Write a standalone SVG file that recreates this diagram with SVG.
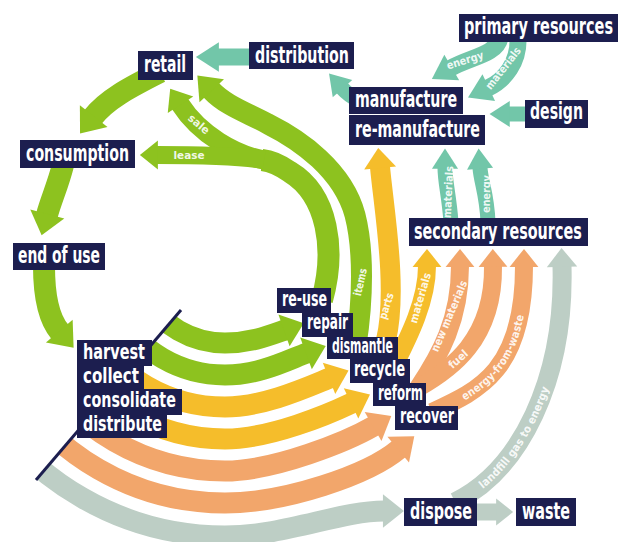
<svg xmlns="http://www.w3.org/2000/svg" width="620" height="542" viewBox="0 0 620 542">
<style>
.box{fill:#1c1e4f}
.t{font-family:"Liberation Sans Narrow","DejaVu Sans Condensed","Liberation Sans",sans-serif;font-weight:bold;fill:#fff;font-size:23px}
.ts{font-size:21px}
.s{font-family:"Liberation Sans Narrow","DejaVu Sans Condensed","Liberation Sans",sans-serif;font-weight:bold;fill:#fff;fill-opacity:.9;font-size:11px;text-anchor:middle}
.b{fill:none}
.g{stroke:#8dc21f}.y{stroke:#f5bd2b}.o{stroke:#f2a66b}.x{stroke:#bdcec5}.c{stroke:#72c6a9}
</style>
<defs>
<clipPath id="cut"><polygon points="531,-100 800,-100 800,700 -152,700"/></clipPath>
<marker id="mg" viewBox="-0.05 -0.8 1.05 1.6" markerWidth="1.05" markerHeight="1.6" refX="0" refY="0" orient="auto" markerUnits="strokeWidth" overflow="visible"><path d="M-0.05,-0.8 L0.95,0 L-0.05,0.8Z" fill="#8dc21f"/></marker>
<marker id="my" viewBox="-0.05 -0.8 1.05 1.6" markerWidth="1.05" markerHeight="1.6" refX="0" refY="0" orient="auto" markerUnits="strokeWidth" overflow="visible"><path d="M-0.05,-0.8 L0.95,0 L-0.05,0.8Z" fill="#f5bd2b"/></marker>
<marker id="mo" viewBox="-0.05 -0.8 1.05 1.6" markerWidth="1.05" markerHeight="1.6" refX="0" refY="0" orient="auto" markerUnits="strokeWidth" overflow="visible"><path d="M-0.05,-0.8 L0.95,0 L-0.05,0.8Z" fill="#f2a66b"/></marker>
<marker id="mx" viewBox="-0.05 -0.8 1.05 1.6" markerWidth="1.05" markerHeight="1.6" refX="0" refY="0" orient="auto" markerUnits="strokeWidth" overflow="visible"><path d="M-0.05,-0.8 L0.95,0 L-0.05,0.8Z" fill="#bdcec5"/></marker>
<marker id="mt" viewBox="-0.05 -0.87 1.35 1.74" markerWidth="1.35" markerHeight="1.74" refX="0" refY="0" orient="auto" markerUnits="strokeWidth" overflow="visible"><path d="M-0.05,-0.87 L1.3,0 L-0.05,0.87Z" fill="#72c6a9"/></marker>
</defs>

<g id="connectors">
  <g clip-path="url(#cut)">
    <path class="b x" stroke-width="21" marker-end="url(#mx)" d="M-22.7,393 A286,286 0 0 0 225,536 C285,536 340,511 384,511"/>
    <path class="b o" stroke-width="21" marker-end="url(#mo)" d="M5.9,376.5 A253,253 0 0 0 225,503 C285,503 368,475 399,449"/>
    <path class="b o" stroke-width="21" marker-end="url(#mo)" d="M33.6,360.5 A221,221 0 0 0 225,471 C275,471 348,441 374,426"/>
    <path class="b y" stroke-width="21" marker-end="url(#my)" d="M61.3,344.5 A189,189 0 0 0 225,439 C270,439 329,414 352,403"/>
    <path class="b y" stroke-width="21" marker-end="url(#my)" d="M89,328.5 A157,157 0 0 0 225,407 C265,407 310,386 330,378"/>
    <path class="b g" stroke-width="21" marker-end="url(#mg)" d="M116.75,312.5 A125,125 0 0 0 225,375 C260,375 288,360 307,353"/>
    <path class="b g" stroke-width="21" marker-end="url(#mg)" d="M144.5,296.5 A93,93 0 0 0 225,343 C250,343 268,336 285,330"/>
  </g>
  <path class="b g" stroke-width="22" marker-end="url(#mg)" d="M160,72 C133,86 108,98 93,117"/>
  <path class="b g" stroke-width="22" marker-end="url(#mg)" d="M63,165 C58,185 51,200 47,215"/>
  <path class="b g" stroke-width="22" marker-end="url(#mg)" d="M44,266 C44,295 48,318 60,332"/>
  <path class="b g" stroke-width="22" d="M322,300 C336,250 328,195 290,172 C280,165 272,161 262,160"/>
  <path class="b g" stroke-width="19" marker-end="url(#mg)" d="M264,160 C236,155 200,135 180,104"/>
  <path class="b g" stroke-width="18" marker-end="url(#mg)" d="M264,160 C240,156 200,155 157,155"/>
  <path class="b g" stroke-width="21" marker-end="url(#mg)" d="M356,345 C363,300 364,250 355,215 C343,170 300,140 268,124 C248,113 226,106 211,90"/>
  <path class="b y" stroke-width="20" marker-end="url(#my)" d="M386,340 C398,290 384,210 380,167"/>
  <path class="b y" stroke-width="18" marker-end="url(#my)" d="M393,368 C410,335 427,300 427,266"/>
  <path class="b o" stroke-width="18" marker-end="url(#mo)" d="M418,388 C440,355 460,320 460,266"/>
  <path class="b o" stroke-width="18" marker-end="url(#mo)" d="M418,388 C450,370 494,340 493,266"/>
  <path id="pEfw" class="b o" stroke-width="18" marker-end="url(#mo)" d="M432,412 C480,390 524,370 524,266"/>
  <path id="pLfg" class="b x" stroke-width="19" marker-end="url(#mx)" d="M455,502 C520,470 565,380 562,266"/>
  <path class="b x" stroke-width="17" marker-end="url(#mx)" d="M476,512 L497,512"/>
  <path class="b c" stroke-width="17" marker-end="url(#mt)" d="M251,57 L218,57"/>
  <path class="b c" stroke-width="15" marker-end="url(#mt)" d="M362,102 C356,99 350,97 342,88"/>
  <path class="b c" stroke-width="17" marker-end="url(#mt)" d="M500,38 C496,55 470,57 451,68"/>
  <path class="b c" stroke-width="17" marker-end="url(#mt)" d="M518,38 C519,62 505,80 488,88"/>
  <path class="b c" stroke-width="15" marker-end="url(#mt)" d="M526,114 L509,114"/>
  <path class="b c" stroke-width="15" marker-end="url(#mt)" d="M451,222 C449,195 445,182 445,168"/>
  <path class="b c" stroke-width="15" marker-end="url(#mt)" d="M488,222 C487,195 481,182 480,168"/>

  <text class="s" transform="translate(199,124) rotate(40)" dy="4" textLength="24" lengthAdjust="spacingAndGlyphs">sale</text>
  <text class="s" x="189" y="159" textLength="31" lengthAdjust="spacingAndGlyphs">lease</text>
  <text class="s" transform="translate(360,282) rotate(-77)" dy="4" textLength="28" lengthAdjust="spacingAndGlyphs">items</text>
  <text class="s" transform="translate(386,306) rotate(-73)" dy="4" textLength="27" lengthAdjust="spacingAndGlyphs">parts</text>
  <text class="s" transform="translate(420,298) rotate(-74)" dy="4" textLength="52" lengthAdjust="spacingAndGlyphs">materials</text>
  <text class="s" transform="translate(449,316) rotate(-67)" dy="4" textLength="76" lengthAdjust="spacingAndGlyphs">new materials</text>
  <text class="s" transform="translate(458,359) rotate(-42)" dy="4" textLength="22" lengthAdjust="spacingAndGlyphs">fuel</text>
  <text class="s" dy="4"><textPath href="#pEfw" startOffset="86" textLength="104" lengthAdjust="spacingAndGlyphs">energy-from-waste</textPath></text>
  <text class="s" dy="4"><textPath href="#pLfg" startOffset="90" textLength="120" lengthAdjust="spacingAndGlyphs">landfill gas to energy</textPath></text>
  <text class="s" transform="translate(448,192) rotate(-87)" dy="4" textLength="52" lengthAdjust="spacingAndGlyphs">materials</text>
  <text class="s" transform="translate(486,194) rotate(-89)" dy="4" textLength="38" lengthAdjust="spacingAndGlyphs">energy</text>
  <text class="s" transform="translate(465,60) rotate(-17)" dy="4" textLength="38" lengthAdjust="spacingAndGlyphs">energy</text>
  <text class="s" transform="translate(503,68) rotate(-52)" dy="4" textLength="50" lengthAdjust="spacingAndGlyphs">materials</text>
</g>

<g id="divider"><line x1="36" y1="480" x2="181" y2="310" stroke="#1c1e4f" stroke-width="3"/></g>

<g id="retail"><rect class="box" x="138" y="51" width="55" height="29"/><text class="t" x="144" y="72" textLength="42" lengthAdjust="spacingAndGlyphs">retail</text></g>
<g id="distribution"><rect class="box" x="249" y="42" width="105" height="27"/><text class="t" transform="translate(255,63) scale(0.72,1)" textLength="130.5" lengthAdjust="spacingAndGlyphs">distribution</text></g>
<g id="primary-resources"><rect class="box" x="459" y="14" width="159" height="28"/><text class="t" transform="translate(464,34) scale(0.72,1)" textLength="207" lengthAdjust="spacingAndGlyphs">primary resources</text></g>
<g id="manufacture"><rect class="box" x="349" y="87" width="114" height="27"/><rect class="box" x="349" y="115" width="136" height="30"/><text class="t" transform="translate(355,107) scale(0.72,1)" textLength="141.7" lengthAdjust="spacingAndGlyphs">manufacture</text><text class="t" transform="translate(355,137) scale(0.72,1)" textLength="173.6" lengthAdjust="spacingAndGlyphs">re-manufacture</text></g>
<g id="design"><rect class="box" x="525" y="100" width="63" height="28"/><text class="t" x="530" y="119" textLength="53" lengthAdjust="spacingAndGlyphs">design</text></g>
<g id="consumption"><rect class="box" x="20" y="140" width="115" height="28"/><text class="t" transform="translate(26,161) scale(0.72,1)" textLength="143" lengthAdjust="spacingAndGlyphs">consumption</text></g>
<g id="end-of-use"><rect class="box" x="13" y="243" width="92" height="27"/><text class="t" transform="translate(18,263) scale(0.72,1)" textLength="113.9" lengthAdjust="spacingAndGlyphs">end of use</text></g>
<g id="secondary-resources"><rect class="box" x="409" y="218" width="179" height="28"/><text class="t" transform="translate(414,239) scale(0.72,1)" textLength="233" lengthAdjust="spacingAndGlyphs">secondary resources</text></g>
<g id="harvest"><rect class="box" x="77" y="340" width="75" height="26"/><rect class="box" x="77" y="365" width="67" height="25"/><rect class="box" x="77" y="389" width="105" height="26"/><rect class="box" x="77" y="414" width="90" height="24"/>
<text class="t ts" x="83" y="359" textLength="62" lengthAdjust="spacingAndGlyphs">harvest</text><text class="t ts" x="83" y="383" textLength="56" lengthAdjust="spacingAndGlyphs">collect</text><text class="t ts" transform="translate(83,407) scale(0.72,1)" textLength="129" lengthAdjust="spacingAndGlyphs">consolidate</text><text class="t ts" transform="translate(83,431) scale(0.72,1)" textLength="109.7" lengthAdjust="spacingAndGlyphs">distribute</text></g>
<g id="re-use"><rect class="box" x="277" y="288" width="54" height="25"/><text class="t ts" x="282" y="306" textLength="45" lengthAdjust="spacingAndGlyphs">re-use</text></g>
<g id="repair"><rect class="box" x="302" y="313" width="51" height="24"/><text class="t ts" x="307" y="329" textLength="41" lengthAdjust="spacingAndGlyphs">repair</text></g>
<g id="dismantle"><rect class="box" x="327" y="337" width="71" height="22"/><text class="t ts" x="332" y="353" textLength="61" lengthAdjust="spacingAndGlyphs">dismantle</text></g>
<g id="recycle"><rect class="box" x="350" y="359" width="60" height="24"/><text class="t ts" x="354" y="376" textLength="51" lengthAdjust="spacingAndGlyphs">recycle</text></g>
<g id="reform"><rect class="box" x="373" y="383" width="53" height="23"/><text class="t ts" x="378" y="400" textLength="45" lengthAdjust="spacingAndGlyphs">reform</text></g>
<g id="recover"><rect class="box" x="395" y="406" width="63" height="24"/><text class="t ts" x="400" y="423" textLength="54" lengthAdjust="spacingAndGlyphs">recover</text></g>
<g id="dispose"><rect class="box" x="404" y="498" width="73" height="28"/><text class="t" x="410" y="519" textLength="62" lengthAdjust="spacingAndGlyphs">dispose</text></g>
<g id="waste"><rect class="box" x="516" y="498" width="60" height="28"/><text class="t" x="522" y="519" textLength="48" lengthAdjust="spacingAndGlyphs">waste</text></g>
</svg>
